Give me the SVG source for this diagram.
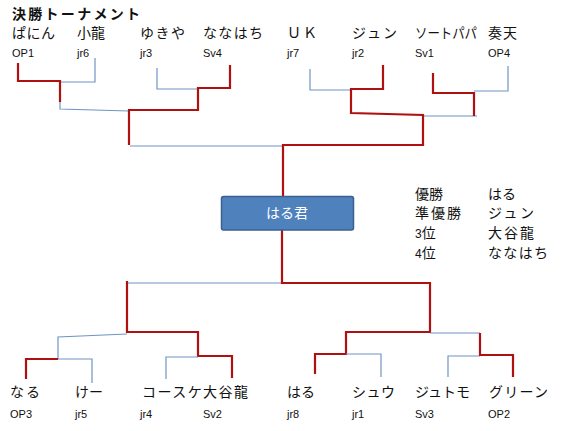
<svg xmlns="http://www.w3.org/2000/svg" width="562" height="431" viewBox="0 0 562 431">
<style>
.r{fill:none;stroke:#b01010;stroke-width:2.2;stroke-linejoin:miter}
.b{fill:none;stroke:#7094c4;stroke-width:1.2}
.n{font-family:"Noto Sans CJK JP","Noto Sans",sans-serif;font-size:14px;fill:#111}
.c{font-family:"Liberation Sans","DejaVu Sans",sans-serif;font-size:11px;fill:#111}
.t{font-family:"Noto Sans CJK JP",sans-serif;font-size:14px;font-weight:bold;fill:#111}
</style>
<rect width="562" height="431" fill="#fff"/>
<text class="t" x="12" y="19" textLength="128" lengthAdjust="spacing">決勝トーナメント</text>
<g id="connectors">
<path class="b" d="M95,58 V82 H60"/>
<path class="b" d="M60,100 V109 L129,111"/>
<path class="r" d="M18,63 V81 H60 V102"/>
<path class="b" d="M157,68 V89 H198"/>
<path class="r" d="M230,65 V88 H198 V110 H129 V145"/>
<path class="b" d="M130,146 H283"/>
<path class="b" d="M310,69 V90 H351"/>
<path class="b" d="M508,66 V91 H474"/>
<path class="b" d="M423,116 H477"/>
<path class="r" d="M433,73 V93 H474 V116"/>
<path class="r" d="M383,65 V89 H351 V113 L423,115 V145 H283 V200"/>
<path class="b" d="M283,283 H127"/>
<path class="r" d="M282,228 V283 H430 V332 H346 V354 H315 V374"/>
<path class="r" d="M127,281 V332 H198 V356 H232 V378"/>
<path class="b" d="M127,334 L58,337 V359 H92 V383"/>
<path class="r" d="M26,379 V359 H58"/>
<path class="b" d="M166,379 V357 H198"/>
<path class="b" d="M346,354 H381 V377"/>
<path class="b" d="M430,333 H480"/>
<path class="b" d="M448,377 V356 H480"/>
<path class="r" d="M480,333 V355 H513 V377"/>
</g>
<g id="p-op1"><text class="n" x="12" y="38" textLength="43" lengthAdjust="spacing">ぱにん</text><text class="c" x="12" y="57">OP1</text></g>
<g id="p-jr6"><text class="n" x="77" y="38" textLength="28" lengthAdjust="spacing">小龍</text><text class="c" x="77" y="57">jr6</text></g>
<g id="p-jr3"><text class="n" x="140" y="38" textLength="45" lengthAdjust="spacing">ゆきや</text><text class="c" x="140" y="57">jr3</text></g>
<g id="p-sv4"><text class="n" x="203" y="38" textLength="60" lengthAdjust="spacing">ななはち</text><text class="c" x="203" y="57">Sv4</text></g>
<g id="p-jr7"><text class="n" x="287" y="38" textLength="30" lengthAdjust="spacing">ＵＫ</text><text class="c" x="287" y="57">jr7</text></g>
<g id="p-jr2"><text class="n" x="352" y="38" textLength="45" lengthAdjust="spacing">ジュン</text><text class="c" x="352" y="57">jr2</text></g>
<g id="p-sv1"><text class="n" x="415" y="38" textLength="62" lengthAdjust="spacingAndGlyphs">ソートパパ</text><text class="c" x="415" y="57">Sv1</text></g>
<g id="p-op4"><text class="n" x="488" y="38" textLength="29" lengthAdjust="spacing">奏天</text><text class="c" x="488" y="57">OP4</text></g>
<g id="winner">
<rect x="221.5" y="196.5" width="132" height="33.5" rx="2" fill="#4f81bd" stroke="#3a6291" stroke-width="1.5"/>
<text class="n" x="287" y="218" text-anchor="middle" fill="#fff" style="fill:#fff">はる君</text>
</g>
<g id="ranking">
<text class="n" x="415" y="199" textLength="28" lengthAdjust="spacing">優勝</text>
<text class="n" x="415" y="218" textLength="46" lengthAdjust="spacing">準優勝</text>
<text class="n" x="415" y="238"><tspan class="c" style="font-size:12px">3</tspan>位</text>
<text class="n" x="415" y="258"><tspan class="c" style="font-size:12px">4</tspan>位</text>
<text class="n" x="488" y="199" textLength="28" lengthAdjust="spacing">はる</text>
<text class="n" x="488" y="218" textLength="46" lengthAdjust="spacing">ジュン</text>
<text class="n" x="488" y="238" textLength="46" lengthAdjust="spacing">大谷龍</text>
<text class="n" x="488" y="258" textLength="60" lengthAdjust="spacing">ななはち</text>
</g>
<g id="p-op3"><text class="n" x="10" y="397" textLength="30" lengthAdjust="spacing">なる</text><text class="c" x="10" y="418">OP3</text></g>
<g id="p-jr5"><text class="n" x="75" y="397" textLength="28" lengthAdjust="spacing">けー</text><text class="c" x="75" y="418">jr5</text></g>
<g id="p-jr4"><text class="n" x="142" y="397" textLength="106" lengthAdjust="spacing">コースケ大谷龍</text><text class="c" x="140" y="418">jr4</text></g>
<g id="p-sv2"><text class="c" x="203" y="418">Sv2</text></g>
<g id="p-jr8"><text class="n" x="287" y="397" textLength="28" lengthAdjust="spacing">はる</text><text class="c" x="287" y="418">jr8</text></g>
<g id="p-jr1"><text class="n" x="352" y="397" textLength="43" lengthAdjust="spacing">シュウ</text><text class="c" x="352" y="418">jr1</text></g>
<g id="p-sv3"><text class="n" x="415" y="397" textLength="55" lengthAdjust="spacing">ジュトモ</text><text class="c" x="415" y="418">Sv3</text></g>
<g id="p-op2"><text class="n" x="489" y="397" textLength="59" lengthAdjust="spacing">グリーン</text><text class="c" x="488" y="418">OP2</text></g>
</svg>
